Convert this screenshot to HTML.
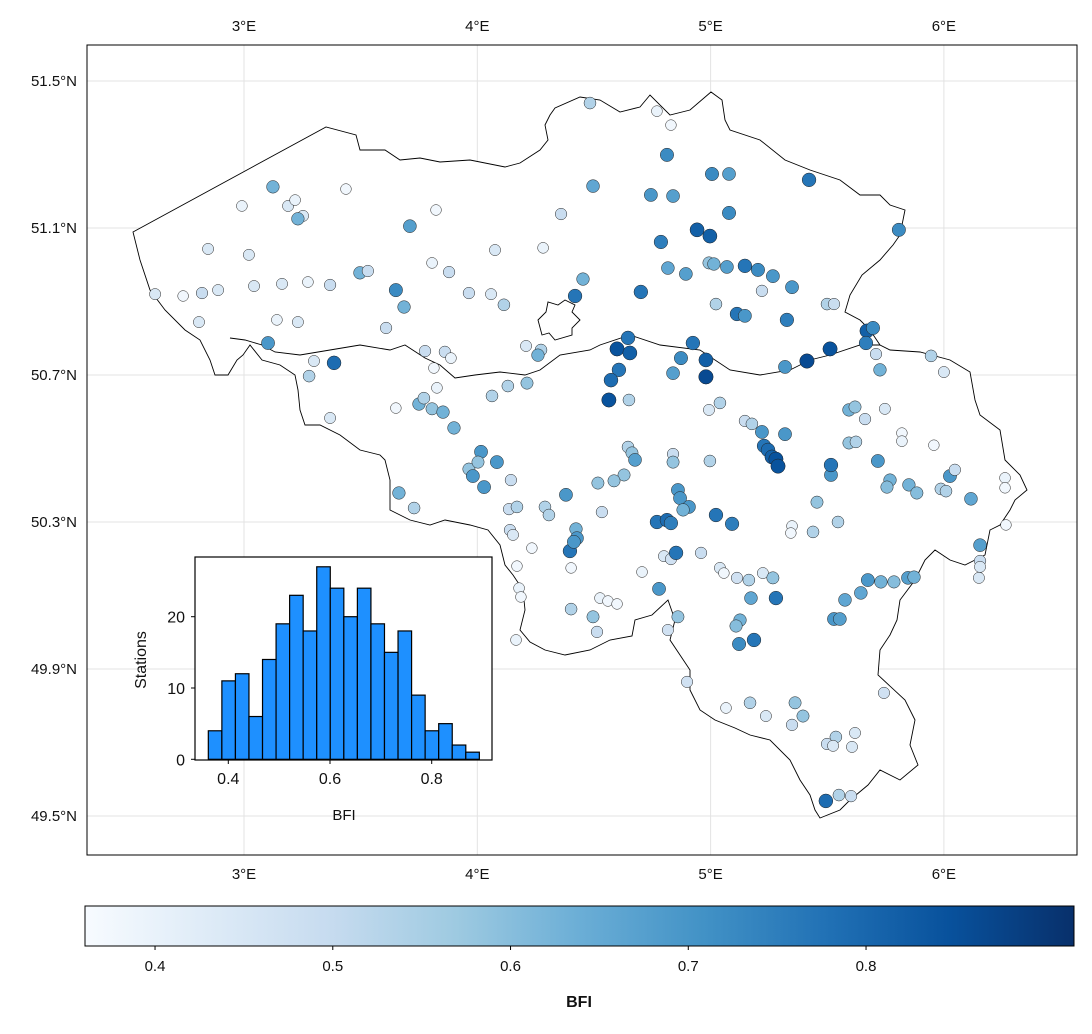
<!DOCTYPE html>
<html><head><meta charset="utf-8"><style>
body{margin:0;background:#fff;}
svg text{font-family:"Liberation Sans",sans-serif;fill:#111;}
</style></head><body>
<svg id="c" width="1092" height="1029" viewBox="0 0 1092 1029" xmlns="http://www.w3.org/2000/svg">
<g id="grid"></g>
<path fill="#fff" stroke="#000" stroke-width="0.9" d="M133,232 L326,127 L356,135 L360,150 L385,150 L400,160 L420,158 L440,162 L470,160 L505,167 L520,163 L540,150 L548,140 L545,125 L550,115 L555,108 L580,97 L600,100 L620,112 L640,107 L650,95 L670,115 L690,110 L711,92 L722,100 L725,120 L730,130 L760,140 L785,160 L810,170 L840,180 L860,195 L880,195 L890,205 L905,210 L900,235 L893,245 L880,260 L862,275 L850,295 L845,312 L860,320 L870,330 L880,345 L890,350 L920,352 L950,360 L970,372 L975,400 L980,415 L1000,430 L1005,460 L1020,475 L1027,490 L1015,500 L1010,510 L1000,525 L990,530 L985,555 L965,565 L950,560 L935,550 L925,560 L915,580 L900,600 L897,620 L890,635 L880,650 L878,675 L905,700 L915,720 L910,745 L918,765 L900,780 L880,770 L868,785 L850,800 L840,810 L820,818 L815,810 L810,795 L800,780 L790,760 L770,740 L750,735 L735,728 L715,720 L700,710 L690,690 L690,670 L680,655 L670,640 L675,620 L668,600 L652,615 L635,620 L632,636 L610,640 L590,650 L565,655 L545,650 L530,642 L520,630 L525,610 L523,590 L513,575 L505,565 L500,545 L488,530 L470,525 L445,520 L430,525 L410,520 L400,515 L390,510 L390,480 L385,460 L380,455 L360,450 L340,435 L320,425 L305,425 L300,410 L298,390 L295,375 L280,365 L262,360 L250,345 L243,355 L237,360 L228,375 L215,375 L210,360 L200,340 L185,330 L165,310 L150,290 L140,260 Z"/>
<path fill="none" stroke="#000" stroke-width="0.9" d="M230,338 L245,340 L262,345 L275,352 L300,355 L330,350 L360,345 L390,350 L405,345 L425,358 L440,365 L455,378 L475,375 L500,372 L525,375 L540,370 L560,355 L590,350 L600,345 L630,335 L660,345 L700,350 L730,370 L760,375 L790,370 L810,360 L830,355 L860,345 L880,345"/>
<path fill="none" stroke="#000" stroke-width="0.9" d="M538,320 L546,312 L548,302 L558,305 L565,300 L575,305 L572,312 L580,320 L572,328 L572,335 L555,340 L549,333 L542,335 Z"/>
<g id="pts"></g>
<rect x="87" y="45" width="990" height="810" fill="none" stroke="#000" stroke-width="1"/>
<g id="ticks"></g>
<g id="hist"></g>
<g id="cbar"></g>
</svg>
<script>
const stationLon=[4.483,4.770,4.830,4.813,5.006,5.079,5.422,4.496,4.744,4.839,5.079,4.359,4.942,4.997,4.787,4.282,5.807,3.124,2.991,3.437,3.189,3.219,3.253,3.231,3.711,3.823,2.846,3.021,2.619,2.739,2.820,2.889,2.807,3.043,3.141,3.231,3.163,3.274,3.369,3.497,3.531,3.806,3.879,4.076,3.651,3.686,3.609,3.964,4.059,4.114,4.453,4.419,4.701,4.817,4.894,4.993,5.014,5.070,5.147,5.203,5.267,5.220,5.349,5.023,5.113,5.147,5.327,5.499,5.529,5.670,5.696,5.666,5.709,5.512,5.413,5.319,5.726,5.945,6.000,3.103,3.300,3.386,3.279,3.776,3.861,3.887,3.814,3.827,3.750,3.771,3.806,3.853,3.900,3.651,3.369,4.209,4.273,4.260,4.646,4.599,4.654,4.607,4.573,4.564,4.650,4.873,4.924,4.980,4.980,4.839,4.063,4.131,4.213,4.016,3.964,4.003,3.981,4.029,4.084,4.144,3.664,3.729,4.136,4.170,4.290,4.307,4.380,4.140,4.153,4.423,4.427,4.397,4.414,4.234,4.646,4.663,4.676,4.629,4.586,4.517,4.534,4.839,4.839,4.997,5.040,4.993,5.147,5.177,5.220,5.229,5.246,5.263,5.280,5.289,5.319,4.860,4.869,4.907,4.882,4.770,4.813,4.830,5.023,5.092,5.349,5.344,5.439,5.546,5.456,5.516,5.516,5.593,5.623,5.593,5.619,5.662,5.747,5.820,5.820,5.957,5.717,5.769,5.756,5.850,5.884,5.987,6.009,6.026,6.047,6.116,6.262,6.262,6.266,6.155,6.155,6.155,6.150,4.800,4.830,4.852,4.959,5.040,5.057,5.113,5.164,5.224,5.267,5.280,5.173,5.126,5.109,5.122,5.186,4.706,4.526,4.560,4.599,4.402,4.170,4.179,4.187,4.402,4.496,4.513,4.779,4.860,4.817,4.899,5.066,5.169,5.237,5.362,5.349,5.396,5.529,5.554,5.576,5.644,5.674,5.730,5.786,5.846,5.872,5.743,5.537,5.499,5.525,5.606,5.619,5.494,5.550,5.602,4.166];
const stationLat=[51.440,51.418,51.380,51.299,51.247,51.247,51.231,51.214,51.190,51.187,51.141,51.138,51.095,51.078,51.062,51.046,51.095,51.212,51.160,51.206,51.160,51.176,51.133,51.125,51.105,51.149,51.043,51.027,50.920,50.915,50.923,50.931,50.844,50.942,50.850,50.844,50.948,50.953,50.945,50.978,50.983,51.005,50.980,51.040,50.931,50.885,50.828,50.923,50.920,50.891,50.961,50.915,50.926,50.991,50.975,51.005,51.002,50.994,50.997,50.986,50.969,50.929,50.939,50.893,50.866,50.861,50.850,50.893,50.893,50.820,50.828,50.787,50.757,50.771,50.738,50.722,50.714,50.752,50.708,50.787,50.738,50.733,50.697,50.765,50.763,50.746,50.719,50.665,50.621,50.637,50.608,50.599,50.556,50.610,50.583,50.779,50.768,50.754,50.801,50.771,50.760,50.714,50.686,50.632,50.632,50.746,50.787,50.741,50.695,50.705,50.643,50.670,50.678,50.491,50.444,50.463,50.425,50.395,50.463,50.414,50.379,50.338,50.335,50.341,50.341,50.319,50.374,50.278,50.265,50.281,50.256,50.221,50.246,50.229,50.504,50.488,50.469,50.428,50.412,50.406,50.327,50.485,50.463,50.466,50.624,50.605,50.575,50.567,50.545,50.507,50.496,50.477,50.471,50.452,50.539,50.387,50.365,50.341,50.333,50.300,50.305,50.297,50.319,50.295,50.289,50.270,50.273,50.300,50.354,50.428,50.455,50.515,50.518,50.605,50.613,50.580,50.608,50.542,50.520,50.509,50.466,50.414,50.395,50.401,50.379,50.390,50.384,50.425,50.442,50.363,50.420,50.393,50.292,50.237,50.194,50.178,50.148,50.207,50.199,50.216,50.216,50.175,50.161,50.148,50.142,50.161,50.148,50.093,50.093,50.033,50.017,49.968,49.979,50.164,50.093,50.085,50.077,50.175,50.180,50.120,50.096,50.063,50.042,50.001,50.118,50.042,50.006,49.865,49.794,49.808,49.772,49.808,49.748,49.772,50.036,50.036,50.088,50.107,50.142,50.137,50.137,50.148,50.150,49.835,49.715,49.696,49.691,49.688,49.726,49.541,49.557,49.554,49.979];
const stationBfi=[0.55,0.40,0.38,0.75,0.75,0.70,0.80,0.68,0.72,0.70,0.75,0.50,0.85,0.85,0.78,0.40,0.75,0.65,0.40,0.38,0.45,0.40,0.45,0.65,0.70,0.38,0.45,0.45,0.45,0.38,0.50,0.45,0.45,0.45,0.40,0.45,0.45,0.40,0.50,0.65,0.50,0.40,0.50,0.45,0.75,0.65,0.50,0.50,0.45,0.55,0.65,0.80,0.80,0.68,0.70,0.60,0.65,0.70,0.80,0.75,0.72,0.50,0.72,0.55,0.80,0.72,0.78,0.55,0.50,0.85,0.75,0.78,0.50,0.88,0.90,0.72,0.65,0.55,0.45,0.72,0.45,0.82,0.55,0.50,0.50,0.40,0.38,0.40,0.65,0.55,0.60,0.65,0.65,0.38,0.45,0.45,0.55,0.65,0.80,0.88,0.85,0.80,0.82,0.88,0.55,0.75,0.80,0.85,0.90,0.70,0.55,0.55,0.60,0.72,0.60,0.60,0.72,0.72,0.72,0.50,0.65,0.55,0.50,0.55,0.55,0.55,0.72,0.50,0.45,0.65,0.72,0.80,0.72,0.38,0.55,0.60,0.70,0.60,0.60,0.60,0.50,0.50,0.60,0.55,0.55,0.45,0.50,0.55,0.72,0.80,0.82,0.85,0.88,0.88,0.72,0.72,0.72,0.72,0.65,0.80,0.82,0.78,0.80,0.78,0.40,0.38,0.55,0.55,0.60,0.72,0.80,0.60,0.55,0.65,0.60,0.50,0.45,0.38,0.40,0.38,0.72,0.65,0.62,0.65,0.62,0.55,0.55,0.72,0.50,0.68,0.40,0.38,0.38,0.70,0.50,0.45,0.45,0.45,0.48,0.80,0.50,0.45,0.38,0.48,0.55,0.45,0.60,0.80,0.68,0.65,0.62,0.75,0.80,0.40,0.40,0.38,0.38,0.38,0.38,0.40,0.38,0.55,0.60,0.50,0.72,0.60,0.48,0.48,0.40,0.55,0.45,0.60,0.50,0.60,0.72,0.70,0.68,0.68,0.72,0.65,0.62,0.70,0.65,0.48,0.55,0.50,0.45,0.45,0.45,0.82,0.55,0.50,0.40];
const lonTicks=[3,4,5,6];
const latTicks=[51.5,51.1,50.7,50.3,49.9,49.5];
const histCounts=[4,11,12,6,14,19,23,18,27,24,20,24,19,15,18,9,4,5,2,1];
const histEdgeStart=0.3607, histBinWidth=0.02665;
const histXTicks=[0.4,0.6,0.8];
const histYTicks=[0,10,20];
const cbarTicks=[0.4,0.5,0.6,0.7,0.8];
const vmin=0.3606, vmax=0.917;

const NS='http://www.w3.org/2000/svg';
function mk(tag,attrs,parent,text){const e=document.createElementNS(NS,tag);for(const k in attrs)e.setAttribute(k,attrs[k]);if(text!==undefined)e.textContent=text;parent.appendChild(e);return e;}
const xLon=l=>244+(l-3)*233.3;
const yLat=l=>81+(51.5-l)*367.5;
const stops=[[247,251,255],[222,235,247],[198,219,239],[158,202,225],[107,174,214],[66,146,198],[33,113,181],[8,81,156],[8,48,107]];
function blues(t){t=Math.max(0,Math.min(1,t))*8;const i=Math.min(7,Math.floor(t)),f=t-i;const a=stops[i],b=stops[i+1];return 'rgb('+a.map((v,k)=>Math.round(v+(b[k]-v)*f)).join(',')+')';}

const grid=document.getElementById('grid'),ticks=document.getElementById('ticks');
lonTicks.forEach(l=>{const x=xLon(l);
 const g=mk('line',{x1:x,x2:x,y1:45,y2:855,stroke:'#e3e3e3','stroke-width':1},grid);
 
 const t1=mk('text',{x:x,y:31,'text-anchor':'middle','font-size':15},ticks,l+'°E');
 
 const t2=mk('text',{x:x,y:879,'text-anchor':'middle','font-size':15},ticks,l+'°E');
 });
latTicks.forEach(l=>{const y=yLat(l);
 const g=mk('line',{x1:87,x2:1077,y1:y,y2:y,stroke:'#e3e3e3','stroke-width':1},grid);
 
 const t=mk('text',{x:77,y:y+5,'text-anchor':'end','font-size':15},ticks,l.toFixed(1)+'°N');
 });

const pts=document.getElementById('pts');
stationBfi.forEach((v,i)=>{const t=(v-vmin)/(vmax-vmin);
 const c=mk('circle',{cx:xLon(stationLon[i]),cy:yLat(stationLat[i]),r:5.3+2*t,fill:blues(t*0.93),stroke:'#222','stroke-width':0.5},pts);
 });

// histogram
const H=document.getElementById('hist');
const hx=v=>228.3+(v-0.4)*508.5, hy=v=>759.3-v*7.13;
const bg=mk('rect',{x:195,y:557,width:297,height:203,fill:'#fff'},H);

histCounts.forEach((n,i)=>{const x0=hx(histEdgeStart+i*histBinWidth),x1=hx(histEdgeStart+(i+1)*histBinWidth);
 const r=mk('rect',{x:x0,y:hy(n),width:x1-x0,height:hy(0)-hy(n),fill:'#1e90ff',stroke:'#000','stroke-width':1.2},H);
 });
const fr=mk('rect',{x:195,y:557,width:297,height:203,fill:'none',stroke:'#000','stroke-width':1.2},H);

histXTicks.forEach(v=>{const x=hx(v);mk('line',{x1:x,x2:x,y1:760,y2:764,stroke:'#000'},H);
 const t=mk('text',{x:x,y:784,'text-anchor':'middle','font-size':16},H,v.toFixed(1));
 });
histYTicks.forEach(v=>{const y=hy(v);mk('line',{x1:191,x2:195,y1:y,y2:y,stroke:'#000'},H);
 const t=mk('text',{x:185,y:y+6,'text-anchor':'end','font-size':16},H,String(v));
 });
const hxl=mk('text',{x:344,y:820,'text-anchor':'middle','font-size':15},H,'BFI');

const hyl=mk('text',{x:146,y:660,'text-anchor':'middle','font-size':16,transform:'rotate(-90 146 660)'},H,'Stations');


// colorbar
const C=document.getElementById('cbar');
const defs=mk('defs',{},C);const lg=mk('linearGradient',{id:'bl',x1:0,x2:1,y1:0,y2:0},defs);
stops.forEach((s,i)=>mk('stop',{offset:i/8,'stop-color':'rgb('+s.join(',')+')'},lg));
const cb=mk('rect',{x:85,y:906,width:989,height:40,fill:'url(#bl)',stroke:'#000','stroke-width':1},C);

const cx=v=>85+(v-vmin)/(vmax-vmin)*989;
cbarTicks.forEach(v=>{const x=cx(v);mk('line',{x1:x,x2:x,y1:946,y2:950,stroke:'#000'},C);
 const t=mk('text',{x:x,y:971,'text-anchor':'middle','font-size':15},C,v.toFixed(1));
 });
const cl=mk('text',{x:579,y:1007,'text-anchor':'middle','font-size':16,'font-weight':'bold'},C,'BFI');

</script>
</body></html>
